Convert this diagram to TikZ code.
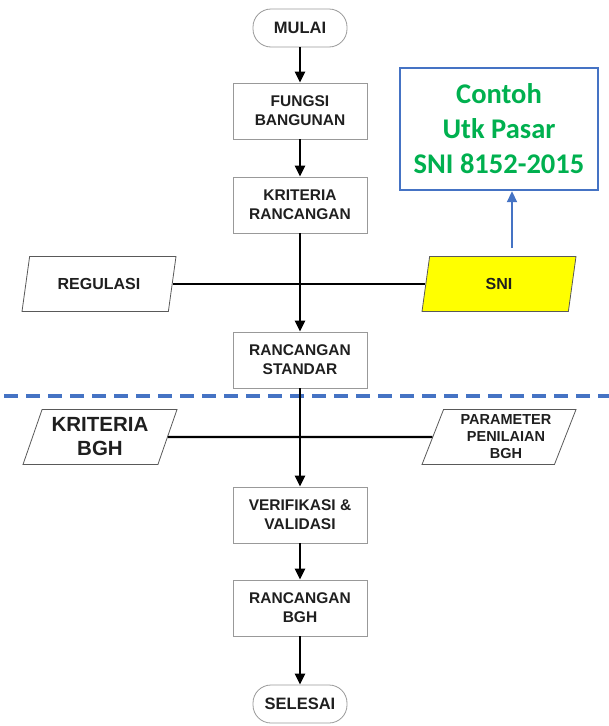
\documentclass[tikz,border=0pt]{standalone}
\usepackage{fontspec}
\setmainfont{Liberation Sans}
\newfontfamily\calibri{Carlito}
\usetikzlibrary{shapes.geometric, arrows.meta, positioning}
\definecolor{mygray}{rgb}{0.6, 0.6, 0.6}
\definecolor{myblue}{rgb}{0.27, 0.45, 0.77}
\definecolor{mygreen}{rgb}{0.0, 0.69, 0.31}
\definecolor{myyellow}{rgb}{1.0, 1.0, 0.0}
\definecolor{mytext}{rgb}{0.12, 0.12, 0.12}

\tikzset{
  terminal/.style={draw=mygray, thick, rounded corners=18pt, minimum width=94pt, minimum height=38pt,
    font=\fontsize{16.5}{19}\selectfont\bfseries, text=mytext, align=center},
  process/.style={draw=mygray, thick, minimum width=134pt, minimum height=56pt,
    font=\fontsize{15.5}{19}\selectfont\bfseries, text=mytext, align=center},
  dataio/.style={trapezium, trapezium left angle=67, trapezium right angle=113, trapezium stretches body,
    draw=black!65, thick, minimum width=154pt, minimum height=55pt, inner xsep=0pt,
    font=\fontsize{16}{19}\selectfont\bfseries, text=mytext, align=center},
  flow/.style={line width=2.6pt, -{Triangle[length=11pt,width=10pt]}},
  joinline/.style={line width=2.4pt},
  infoarrow/.style={myblue, line width=1.8pt, -{Triangle[length=11pt,width=10pt]}}
}

\begin{document}
\begin{tikzpicture}[x=1pt, y=-1pt]
  \useasboundingbox (0,0) rectangle (609,726);

  % main column
  \node[terminal] (mulai) at (300,28) {MULAI};
  \node[process] (fungsi) at (300,111) {FUNGSI\\BANGUNAN};
  \node[process] (kriteria) at (300,205) {KRITERIA\\RANCANGAN};
  \node[process] (standar) at (300,360) {RANCANGAN\\STANDAR};
  \node[process] (verifikasi) at (300,515) {VERIFIKASI \&\\VALIDASI};
  \node[process] (bgh) at (300,608) {RANCANGAN\\BGH};
  \node[terminal] (selesai) at (300,704) {SELESAI};

  % inputs
  \node[dataio] (regulasi) at (99,284) {REGULASI};
  \node[dataio, fill=myyellow] (sni) at (499,284) {SNI};
  \node[dataio, font=\fontsize{20.5}{24}\selectfont\bfseries] (kriteriabgh) at (100,437) {KRITERIA\\BGH};
  \node[dataio, font=\fontsize{14.5}{17}\selectfont\bfseries] (parameter) at (499,437) {\hspace*{14pt}PARAMETER\\\hspace*{14pt}PENILAIAN\\\hspace*{14pt}BGH};

  % note
  \node[draw=myblue, line width=2.4pt, minimum width=198pt, minimum height=122pt, text=mygreen,
    font=\fontsize{28.5}{35}\selectfont\calibri\bfseries, align=center] (contoh) at (499,129)
    {Contoh\\Utk Pasar\\SNI 8152-2015};
  \coordinate (snitip) at (512,248);
  \draw[infoarrow] (snitip) -- (snitip |- contoh.south);

  % separator
  \draw[myblue, line width=4pt, dash pattern=on 14pt off 8pt] (4,396) -- (609,396);

  % connectors
  \draw[joinline] (regulasi.east) -- (sni.west);
  \draw[joinline] (kriteriabgh.east) -- (parameter.west);
  \draw[flow] (mulai) -- (fungsi);
  \draw[flow] (fungsi) -- (kriteria);
  \draw[flow] (kriteria) -- (standar);
  \draw[flow] (standar) -- (verifikasi);
  \draw[flow] (verifikasi) -- (bgh);
  \draw[flow] (bgh) -- (selesai);
\end{tikzpicture}
\end{document}
